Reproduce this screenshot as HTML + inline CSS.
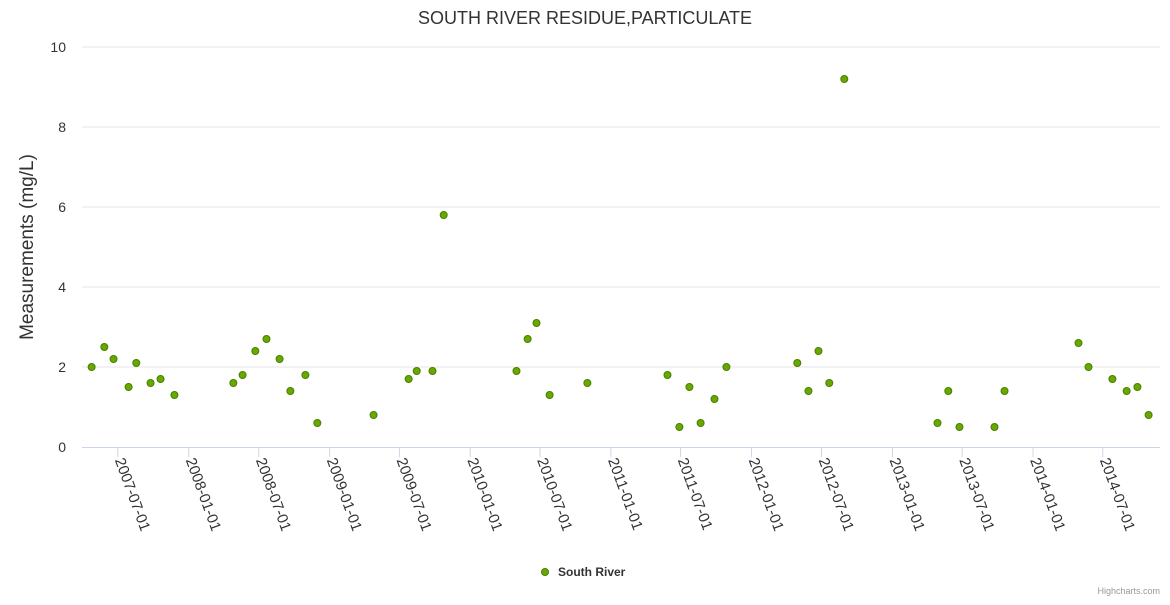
<!DOCTYPE html>
<html><head><meta charset="utf-8"><style>
body{margin:0;background:#fff;font-family:"Liberation Sans","DejaVu Sans",sans-serif}
svg text{font-family:"Liberation Sans","DejaVu Sans",sans-serif}
</style></head><body>
<svg id="chart" width="1170" height="600" xmlns="http://www.w3.org/2000/svg">
<text x="585" y="24" text-anchor="middle" font-size="18" fill="#333">SOUTH RIVER RESIDUE,PARTICULATE</text>
<text transform="translate(33,247) rotate(-90)" text-anchor="middle" font-size="19" fill="#333">Measurements (mg/L)</text>
<g id="grid"></g><g id="xaxis"></g><g id="points"></g>
<g>
<circle cx="545" cy="572" r="3.5" fill="#66aa00" stroke="#4a7d00" stroke-width="1"/>
<text x="558" y="576" font-size="12" font-weight="bold" fill="#333">South River</text>
</g>
<text x="1160" y="594" text-anchor="end" font-size="9" fill="#999">Highcharts.com</text>
</svg>
<script>
const dates=["2007-04-24","2007-05-27","2007-06-20","2007-07-29","2007-08-18","2007-09-24","2007-10-20","2007-11-25","2008-04-26","2008-05-20","2008-06-22","2008-07-21","2008-08-24","2008-09-21","2008-10-30","2008-11-30","2009-04-25","2009-07-25","2009-08-15","2009-09-25","2009-10-24","2010-05-01","2010-05-30","2010-06-22","2010-07-26","2010-11-01","2011-05-28","2011-06-28","2011-07-24","2011-08-22","2011-09-27","2011-10-28","2012-04-29","2012-05-28","2012-06-23","2012-07-21","2012-08-29","2013-04-28","2013-05-26","2013-06-24","2013-09-23","2013-10-19","2014-04-29","2014-05-25","2014-07-26","2014-09-01","2014-09-29","2014-10-28"];
const values=[2.0,2.5,2.2,1.5,2.1,1.6,1.7,1.3,1.6,1.8,2.4,2.7,2.2,1.4,1.8,0.6,0.8,1.7,1.9,1.9,5.8,1.9,2.7,3.1,1.3,1.6,1.8,0.5,1.5,0.6,1.2,2.0,2.1,1.4,2.4,1.6,9.2,0.6,1.4,0.5,0.5,1.4,2.6,2.0,1.7,1.4,1.5,0.8];
const yTicks=[0,2,4,6,8,10];
const xTicks=["2007-07-01","2008-01-01","2008-07-01","2009-01-01","2009-07-01","2010-01-01","2010-07-01","2011-01-01","2011-07-01","2012-01-01","2012-07-01","2013-01-01","2013-07-01","2014-01-01","2014-07-01"];
const NS="http://www.w3.org/2000/svg";
const L=82,R=1160,T=47,B=447;
const t0=Date.UTC(2007,6,1),PXD=0.3852;
function day(s){const p=s.split('-');return (Date.UTC(+p[0],p[1]-1,+p[2])-t0)/864e5;}
function x(s){return 117.8+day(s)*PXD;}
function y(v){return B-(v/10)*(B-T);}
function mk(tag,a,parent){const e=document.createElementNS(NS,tag);for(const k in a)e.setAttribute(k,a[k]);parent.appendChild(e);return e;}
const grid=document.getElementById('grid'),xa=document.getElementById('xaxis'),pts=document.getElementById('points');
yTicks.forEach(v=>{
 if(v>0){const g=mk('line',{x1:L,x2:R,y1:y(v),y2:y(v),stroke:'#e6e6e6','stroke-width':1},grid);
 
 }
 const t=mk('text',{x:66,y:y(v)+5,'text-anchor':'end','font-size':14,fill:'#333'},grid);
 
 
 t.textContent=v;
});
const al=mk('line',{x1:L,x2:R,y1:B+0.5,y2:B+0.5,stroke:'#ccd6eb','stroke-width':1},xa);


xTicks.forEach(s=>{
 const xx=x(s);
 const tl=mk('line',{x1:xx,x2:xx,y1:B,y2:B+10,stroke:'#ccd6eb','stroke-width':1},xa);
 
 
 const t=mk('text',{transform:`translate(${xx-3},${B+13}) rotate(70)`,'font-size':15,fill:'#333'},xa);
 
 
 t.textContent=s;
});
dates.forEach((d,i)=>{
 const c=mk('circle',{cx:x(d),cy:y(values[i]),r:3.5,fill:'#66aa00',stroke:'#4a7d00','stroke-width':1},pts);
 
 
});
</script>
</body></html>
